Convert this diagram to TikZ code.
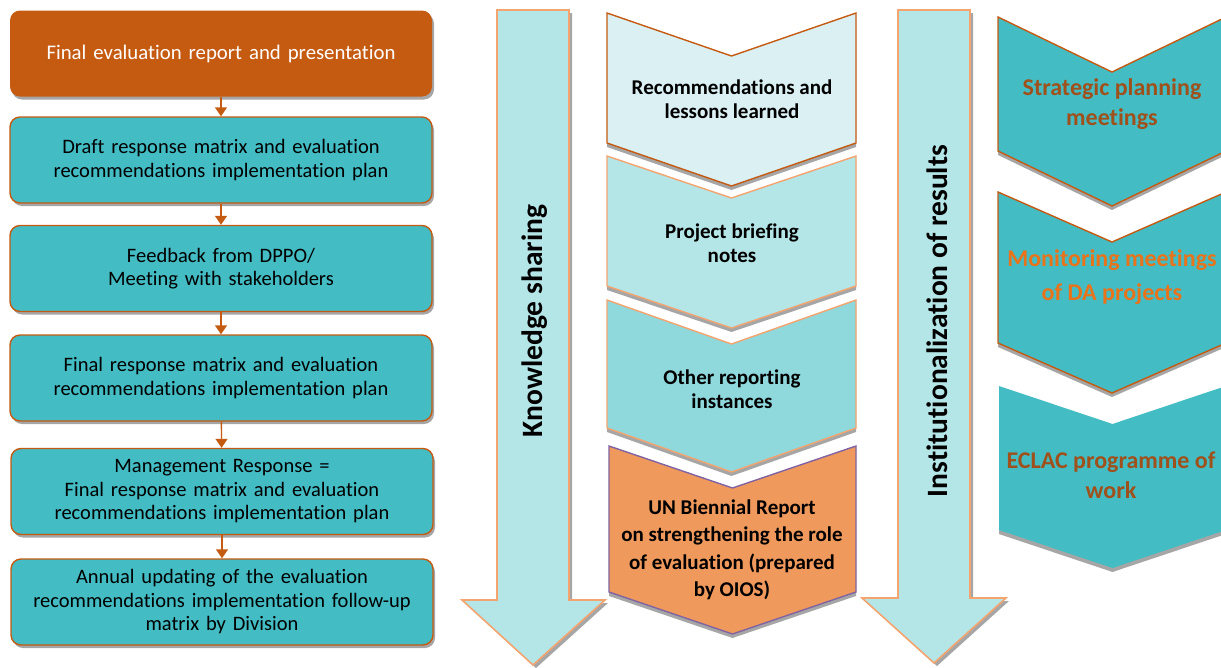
\documentclass[tikz,border=0pt]{standalone}
\usepackage{fontspec}
\setmainfont{Carlito}[Ligatures=NoCommon]
\usetikzlibrary{shadows,arrows.meta,positioning}

\definecolor{ecorange}{HTML}{C55A11}
\definecolor{ecteal}{HTML}{43BCC4}
\definecolor{ecpale}{HTML}{B4E5E7}
\definecolor{ecpaler}{HTML}{DAF0F3}
\definecolor{ecmid}{HTML}{8FD8DC}
\definecolor{eclight}{HTML}{F4A46E}
\definecolor{ecpeach}{HTML}{F0995C}
\definecolor{ecpurple}{HTML}{8064A2}
\definecolor{ecbrown}{HTML}{A0501A}
\definecolor{ecbright}{HTML}{E8731A}

\tikzset{
  stepbox/.style={draw=ecorange, line width=1.4pt, fill=ecteal, rounded corners=10pt,
    minimum width=422pt, minimum height=86pt, text width=410pt, align=center,
    font=\fontsize{20.5}{23.5}\selectfont,
    drop shadow={shadow xshift=2pt, shadow yshift=-3pt, fill=black!35, opacity=1}},
  headbox/.style={stepbox, fill=ecorange, draw=none, text=white, font=\fontsize{20.8}{24}\selectfont},
  flowarrow/.style={draw=ecorange, line width=1.4pt, -{Triangle[length=9pt,width=12pt]}},
  bigarrow/.style={fill=ecpale, draw=eclight, line width=1.6pt,
    drop shadow={shadow xshift=3pt, shadow yshift=-3pt, fill=black!35, opacity=1}},
  chevshape/.style={line width=1.4pt,
    drop shadow={shadow xshift=0pt, shadow yshift=-4pt, fill=black!35, opacity=1}},
  sidetext/.style={rotate=90, font=\bfseries\fontsize{29.5}{32}\selectfont},
  chevtext/.style={align=center, font=\bfseries\fontsize{21}{24}\selectfont},
  rchevtext/.style={align=center, font=\bfseries\fontsize{24}{30}\selectfont}
}

% chevron: style, left x, right x, top y, bottom y, depth
\newcommand{\chev}[6]{%
  \pgfmathsetmacro\xm{(#2+#3)/2}
  \draw[#1] (#2,#4) -- (\xm,#4+#6) -- (#3,#4) -- (#3,#5) -- (\xm,#5+#6) -- (#2,#5) -- cycle;}

\begin{document}
\begin{tikzpicture}[x=1pt,y=-1pt]
  \useasboundingbox (0,0) rectangle (1221,667);

  % process steps
  \node[headbox] (report) at (221,53.5) {Final evaluation report and presentation};
  \node[stepbox] (draft) at (221,160) {Draft response matrix and evaluation\\ recommendations implementation plan};
  \node[stepbox] (feedback) at (221,268.5) {Feedback from DPPO/\\ Meeting with stakeholders};
  \node[stepbox] (final) at (221,378) {Final response matrix and evaluation\\ recommendations implementation plan};
  \node[stepbox] (mgmt) at (222,491.5) {Management Response =\\ Final response matrix and evaluation\\ recommendations implementation plan};
  \node[stepbox] (annual) at (222,602) {Annual updating of the evaluation\\ recommendations implementation follow-up\\ matrix by Division};
  \draw[flowarrow] (report) -- (draft);
  \draw[flowarrow] (draft) -- (feedback);
  \draw[flowarrow] (feedback) -- (final);
  \draw[flowarrow] (final) -- (mgmt);
  \draw[flowarrow] (mgmt) -- (annual);

  % knowledge sharing
  \draw[bigarrow] (497,10) -- (569,10) -- (569,600) -- (605,600) -- (533,665)
    -- (462,600) -- (497,600) -- cycle;
  \node[sidetext] (knowledge) at (535,321) {Knowledge sharing};

  \chev{chevshape, fill=ecpaler, draw=ecorange}{607}{856}{13}{143}{43}
  \node[chevtext] (lessons) at (732,99) {Recommendations and\\ lessons learned};
  \chev{chevshape, fill=ecpale, draw=eclight}{607}{856}{156}{286}{42}
  \node[chevtext] (briefing) at (732,243) {Project briefing\\ notes};
  \chev{chevshape, fill=ecmid, draw=eclight}{607}{856}{300}{428}{44}
  \node[chevtext] (other) at (732,389) {Other reporting\\ instances};
  \chev{chevshape, fill=ecpeach, draw=ecpurple}{609}{856}{446}{592}{42}
  \node[chevtext, font=\bfseries\fontsize{21}{27.5}\selectfont] (biennial) at (732,550)
    {UN Biennial Report\\ on strengthening the role\\ of evaluation (prepared\\ by OIOS)};

  % institutionalization
  \draw[bigarrow] (898,10) -- (970,10) -- (970,598) -- (1006,598) -- (934,663)
    -- (862,598) -- (898,598) -- cycle;
  \node[sidetext] (instit) at (937,321) {Institutionalization of results};

  \chev{chevshape, fill=ecteal, draw=ecorange}{998}{1226}{17}{151}{55}
  \node[rchevtext, text=ecbrown] (planning) at (1112,104) {Strategic planning\\ meetings};
  \chev{chevshape, fill=ecteal, draw=ecorange}{998}{1226}{192}{343}{50}
  \node[rchevtext, text=ecbright, font=\bfseries\fontsize{24}{34}\selectfont] (monitoring) at (1112,277)
    {Monitoring meetings\\ of DA projects};
  \chev{chevshape, fill=ecteal, draw=none}{999}{1226}{386}{530}{38}
  \node[rchevtext, text=ecbrown] (programme) at (1111,475) {ECLAC programme of\\ work};
\end{tikzpicture}
\end{document}
